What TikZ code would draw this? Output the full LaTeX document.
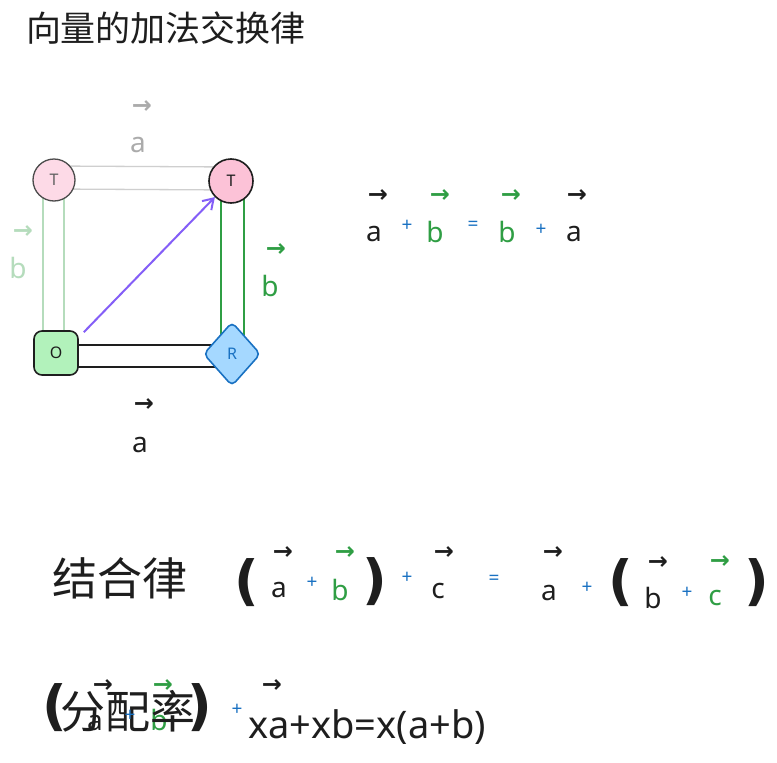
\documentclass[tikz,border=0pt]{standalone}
\usepackage{fontspec}
\setmainfont{Noto Sans}
\newfontfamily\cjk{Noto Sans CJK SC}
\newfontfamily\sym{DejaVu Sans}
\usetikzlibrary{arrows.meta,shapes.geometric,backgrounds}
\definecolor{ink}{HTML}{1E1E1E}
\definecolor{pinkf}{HTML}{FCC2D7}
\definecolor{pinkl}{HTML}{FDDAE7}
\definecolor{greenf}{HTML}{B2F2BB}
\definecolor{bluef}{HTML}{A5D8FF}
\definecolor{blues}{HTML}{1971C2}
\definecolor{greens}{HTML}{2F9E44}
\definecolor{greenl}{HTML}{B5DCBC}
\definecolor{grayl}{HTML}{CFCFCF}
\definecolor{grayt}{HTML}{ABABAB}
\definecolor{purp}{HTML}{845EF7}
\tikzset{
  lett/.style={font=\fontsize{28}{28}\selectfont, text=ink, inner sep=0, anchor=base},
  vec/.style={font=\sym\bfseries\fontsize{24}{24}\selectfont, text=ink, inner sep=0},
  plusop/.style={font=\fontsize{19}{19}\selectfont, text=blues, inner sep=0},
  bigparen/.style={font=\sym\bfseries\fontsize{54}{54}\selectfont, text=ink, inner sep=0},
  cjkbig/.style={font=\cjk\fontsize{45}{45}\selectfont, text=ink, inner sep=0},
  edge/.style={line width=1.3pt},
}
\begin{document}
\begin{tikzpicture}[x=1pt,y=-1pt]
\useasboundingbox (0,0) rectangle (777,763);

\node[font=\cjk\fontsize{35}{35}\selectfont, text=ink, inner sep=0] (title) at (166,28) {向量的加法交换律};

% square nodes
\node[circle, draw=gray!60!black, line width=1.3pt, fill=pinkl, minimum size=42pt, inner sep=0, text=ink!70, font=\fontsize{16}{16}\selectfont] (tl) at (54,180) {T};
\node[circle, draw=ink, line width=1.6pt, fill=pinkf, minimum size=44pt, inner sep=0, text=ink, font=\fontsize{16}{16}\selectfont] (tr) at (231,181) {T};
\node[rectangle, rounded corners=8pt, draw=ink, line width=1.6pt, fill=greenf, minimum size=44pt, inner sep=0, text=ink, font=\fontsize{16}{16}\selectfont] (o) at (56,353) {O};
\node[diamond, rounded corners=5pt, draw=blues, line width=1.6pt, fill=bluef, minimum width=57pt, minimum height=64pt, inner sep=0, text=blues, font=\fontsize{16}{16}\selectfont] (r) at (232,354) {R};

\begin{scope}[on background layer]
  \fill[white] (0,0) rectangle (777,763);
  \draw[edge, grayl] ([yshift=14pt]tl.center) -- ([yshift=14pt]tr.center);
  \draw[edge, grayl] ([yshift=-9pt]tl.center) -- ([yshift=-9pt]tr.center);
  \draw[edge, greenl] ([xshift=-11pt]tl.center) -- ([xshift=-11pt]tl.center |- o.center);
  \draw[edge, greenl] ([xshift=10pt]tl.center) -- ([xshift=10pt]tl.center |- o.center);
  \draw[edge, greens] ([xshift=-10pt]tr.center) -- ([xshift=-10pt]tr.center |- r.center);
  \draw[edge, greens] ([xshift=13pt]tr.center) -- ([xshift=13pt]tr.center |- r.center);
  \draw[edge, ink] ([yshift=8pt]o.center) -- ([yshift=8pt]o.center -| r.center);
  \draw[edge, ink] ([yshift=-14pt]o.center) -- ([yshift=-14pt]o.center -| r.center);
\end{scope}
\draw[line width=2pt, purp, -{Straight Barb[length=10pt,width=13pt]}] ([shift={(5pt,-2pt)}]o.north east) -- (tr.south west);

% edge labels
\node[vec, text=grayt] (ta) at (142,107) {→};
\node[lett, text=grayt] (tal) at (138,152) {a};
\node[vec, text=greenl] (lb) at (23,232) {→};
\node[lett, text=greenl] (lbl) at (18,278) {b};
\node[vec, text=greens] (rb) at (276,250) {→};
\node[lett, text=greens] (rbl) at (270,296) {b};
\node[vec] (ba) at (144,405) {→};
\node[lett] (bal) at (140,452) {a};

% commutative equation
\node[vec] (e1v) at (378,196) {→};
\node[lett] (e1) at (374,241) {a};
\node[plusop] (e2) at (407,226) {+};
\node[vec, text=greens] (e3v) at (440,196) {→};
\node[lett, text=greens] (e3) at (435,242) {b};
\node[plusop] (e4) at (473,226) {=};
\node[vec, text=greens] (e5v) at (511,196) {→};
\node[lett, text=greens] (e5) at (507,242) {b};
\node[plusop] (e6) at (541,230) {+};
\node[vec] (e7v) at (577,196) {→};
\node[lett] (e7) at (574,241) {a};

% associative law
\node[cjkbig] (assoc) at (120,578) {结合律};
\node[bigparen] (p1) at (247,583) {(};
\node[vec] (s1v) at (283,553) {→};
\node[lett] (s1) at (279,597) {a};
\node[plusop] (s2) at (312,583) {+};
\node[vec, text=greens] (s3v) at (345,553) {→};
\node[lett, text=greens] (s3) at (340,600) {b};
\node[bigparen] (p2) at (375,582) {)};
\node[plusop] (s4) at (407,578) {+};
\node[vec] (s5v) at (444,553) {→};
\node[lett] (s5) at (438,598) {c};
\node[plusop] (s6) at (494,580) {=};
\node[vec] (s7v) at (553,553) {→};
\node[lett] (s7) at (549,600) {a};
\node[plusop] (s8) at (587,588) {+};
\node[bigparen] (p3) at (621,583) {(};
\node[vec] (s9v) at (658,563) {→};
\node[lett] (s9) at (653,608) {b};
\node[plusop] (s10) at (687,593) {+};
\node[vec, text=greens] (s11v) at (720,562) {→};
\node[lett, text=greens] (s11) at (715,605) {c};
\node[bigparen] (p4) at (757,583) {)};

% distributive law
\node[bigparen] (q1) at (55,708) {(};
\node[vec] (d1v) at (103,686) {→};
\node[lett] (d1) at (95,730) {a};
\node[vec, text=greens] (d3v) at (163,686) {→};
\node[lett, text=greens] (d3) at (159,730) {b};
\node[cjkbig] (distr) at (128,711) {分配率};
\node[plusop] (d2) at (130,716) {+};
\node[bigparen] (q2) at (200,708) {)};
\node[plusop] (d4) at (237,710) {+};
\node[vec] (d5v) at (272,686) {→};
\node[lett, font=\fontsize{38}{38}\selectfont, anchor=base west] (d5) at (248,738) {xa+xb=x(a+b)};
\end{tikzpicture}
\end{document}
